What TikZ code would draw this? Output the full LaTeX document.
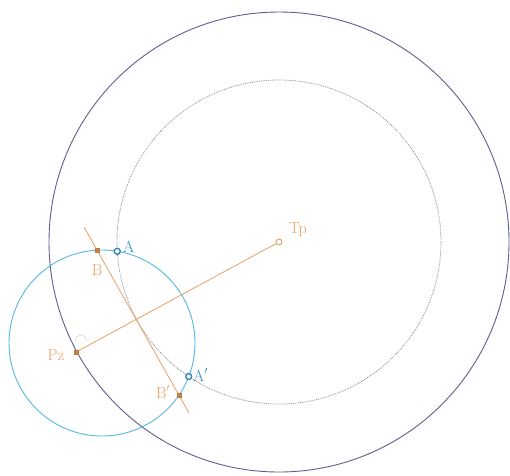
\documentclass[tikz,border=0pt]{standalone}
\usetikzlibrary{shapes.geometric}
\definecolor{bigc}{HTML}{5E5E90}
\definecolor{dotc}{HTML}{8A8A8A}
\definecolor{bluec}{HTML}{55B8E0}
\definecolor{darkb}{HTML}{2A7FB8}
\definecolor{orng}{HTML}{E8A060}
\definecolor{ornd}{HTML}{B9793F}
\tikzset{
  lbl/.style={font=\fontsize{16}{16}\selectfont, inner sep=0pt},
  olbl/.style={lbl, text=orng},
  blbl/.style={lbl, text=darkb!80!bluec},
  bmark/.style={draw=darkb, line width=1.3pt, circle, inner sep=0pt, minimum size=6pt, fill=white},
  omark/.style={draw=ornd, fill=ornd!80!orng, rectangle, inner sep=0pt, minimum size=4.5pt},
  tmark/.style={draw=orng, line width=0.9pt, circle, inner sep=0pt, minimum size=6pt, fill=white},
}
\begin{document}
\begin{tikzpicture}[x=1pt,y=-1pt]
\useasboundingbox (0,0) rectangle (510,475);
\coordinate (T) at (279,242);
\coordinate (C) at (102,343);
\coordinate (L1) at (84,227);
\coordinate (L2) at (189,413);
% circles
\draw[bigc, line width=0.9pt] (T) circle[radius=230pt];
\draw[dotc, densely dotted, line width=0.8pt] (T) circle[radius=162pt];
\draw[bluec, line width=0.9pt] (C) circle[radius=93pt];
% small arc near Pz
\draw[gray!35, line width=0.5pt] (75,341) .. controls (76,333) and (86,333) .. (87,341);
% markers
\node[omark] (Pz) at (76,352) {};
\node[tmark] (Tp) at (T) {};
\node[omark] (B) at (97,250) {};
\node[omark] (Bp) at (179,395) {};
% lines
\draw[orng, line width=0.8pt] (Pz) -- (Tp);
\draw[orng, line width=0.8pt] (L1) -- (L2);
\node[omark] at (Pz) {};
\node[omark] at (B) {};
\node[omark] at (Bp) {};
\node[bmark] (A) at (117.3,251.3) {};
\node[bmark] (Ap) at (188.7,376.5) {};
% labels
\node[blbl, anchor=west] (lA) at (123,247) {A};
\node[blbl, anchor=west] (lAp) at (193,375) {A$'$};
\node[olbl] (lB) at (97,270) {B};
\node[olbl] (lBp) at (163,392) {B$'$};
\node[olbl] (lPz) at (56,355) {Pz};
\node[olbl] (lTp) at (298,230) {Tp};
\end{tikzpicture}
\end{document}
